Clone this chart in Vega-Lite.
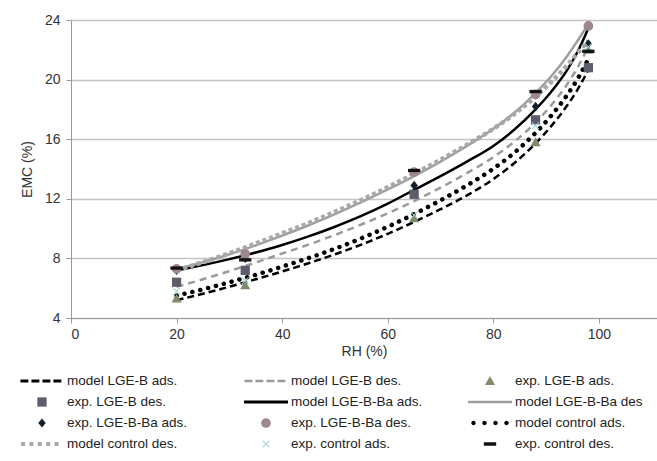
{
  "$schema": "https://vega.github.io/schema/vega-lite/v6.json",
  "autosize": "none",
  "width": 586,
  "height": 298,
  "padding": {"left": 71, "top": 20, "right": 0, "bottom": 143},
  "background": "white",
  "config": {
    "font": "Liberation Sans",
    "view": {"stroke": null},
    "axis": {"labelFont": "Liberation Sans", "titleFont": "Liberation Sans", "labelFontSize": 14, "labelColor": "#333333", "titleFontSize": 14, "titleFontWeight": "normal", "titleColor": "#333333", "domainColor": "#9a9a9a", "tickColor": "#9a9a9a", "tickSize": 5}
  },
  "datasets": {
    "curves": [
      {"series": "model LGE-B ads.", "rh": 20, "emc": 5.2}, {"series": "model LGE-B ads.", "rh": 25, "emc": 5.625}, {"series": "model LGE-B ads.", "rh": 30, "emc": 6.1}, {"series": "model LGE-B ads.", "rh": 35, "emc": 6.6}, {"series": "model LGE-B ads.", "rh": 40, "emc": 7.125}, {"series": "model LGE-B ads.", "rh": 45, "emc": 7.675}, {"series": "model LGE-B ads.", "rh": 50, "emc": 8.275}, {"series": "model LGE-B ads.", "rh": 55, "emc": 8.925}, {"series": "model LGE-B ads.", "rh": 60, "emc": 9.65}, {"series": "model LGE-B ads.", "rh": 65, "emc": 10.45}, {"series": "model LGE-B ads.", "rh": 70, "emc": 11.3}, {"series": "model LGE-B ads.", "rh": 75, "emc": 12.225}, {"series": "model LGE-B ads.", "rh": 80, "emc": 13.325}, {"series": "model LGE-B ads.", "rh": 84, "emc": 14.405}, {"series": "model LGE-B ads.", "rh": 88, "emc": 15.725}, {"series": "model LGE-B ads.", "rh": 91, "emc": 16.895}, {"series": "model LGE-B ads.", "rh": 94, "emc": 18.275}, {"series": "model LGE-B ads.", "rh": 96, "emc": 19.355}, {"series": "model LGE-B ads.", "rh": 98, "emc": 20.655},
      {"series": "model LGE-B des.", "rh": 20, "emc": 6.1}, {"series": "model LGE-B des.", "rh": 25, "emc": 6.6}, {"series": "model LGE-B des.", "rh": 30, "emc": 7.15}, {"series": "model LGE-B des.", "rh": 35, "emc": 7.725}, {"series": "model LGE-B des.", "rh": 40, "emc": 8.325}, {"series": "model LGE-B des.", "rh": 45, "emc": 8.925}, {"series": "model LGE-B des.", "rh": 50, "emc": 9.575}, {"series": "model LGE-B des.", "rh": 55, "emc": 10.275}, {"series": "model LGE-B des.", "rh": 60, "emc": 11.025}, {"series": "model LGE-B des.", "rh": 65, "emc": 11.85}, {"series": "model LGE-B des.", "rh": 70, "emc": 12.75}, {"series": "model LGE-B des.", "rh": 75, "emc": 13.725}, {"series": "model LGE-B des.", "rh": 80, "emc": 14.8}, {"series": "model LGE-B des.", "rh": 84, "emc": 15.84}, {"series": "model LGE-B des.", "rh": 88, "emc": 17.12}, {"series": "model LGE-B des.", "rh": 91, "emc": 18.29}, {"series": "model LGE-B des.", "rh": 94, "emc": 19.7}, {"series": "model LGE-B des.", "rh": 96, "emc": 20.84}, {"series": "model LGE-B des.", "rh": 98, "emc": 22.2},
      {"series": "model LGE-B-Ba ads.", "rh": 20, "emc": 7.2}, {"series": "model LGE-B-Ba ads.", "rh": 25, "emc": 7.55}, {"series": "model LGE-B-Ba ads.", "rh": 30, "emc": 7.95}, {"series": "model LGE-B-Ba ads.", "rh": 35, "emc": 8.4}, {"series": "model LGE-B-Ba ads.", "rh": 40, "emc": 8.9}, {"series": "model LGE-B-Ba ads.", "rh": 45, "emc": 9.475}, {"series": "model LGE-B-Ba ads.", "rh": 50, "emc": 10.125}, {"series": "model LGE-B-Ba ads.", "rh": 55, "emc": 10.85}, {"series": "model LGE-B-Ba ads.", "rh": 60, "emc": 11.675}, {"series": "model LGE-B-Ba ads.", "rh": 65, "emc": 12.6}, {"series": "model LGE-B-Ba ads.", "rh": 70, "emc": 13.525}, {"series": "model LGE-B-Ba ads.", "rh": 75, "emc": 14.5}, {"series": "model LGE-B-Ba ads.", "rh": 80, "emc": 15.55}, {"series": "model LGE-B-Ba ads.", "rh": 84, "emc": 16.65}, {"series": "model LGE-B-Ba ads.", "rh": 88, "emc": 18.0}, {"series": "model LGE-B-Ba ads.", "rh": 91, "emc": 19.2}, {"series": "model LGE-B-Ba ads.", "rh": 94, "emc": 20.65}, {"series": "model LGE-B-Ba ads.", "rh": 96, "emc": 21.9}, {"series": "model LGE-B-Ba ads.", "rh": 98, "emc": 23.45},
      {"series": "model LGE-B-Ba des", "rh": 20, "emc": 7.3}, {"series": "model LGE-B-Ba des", "rh": 25, "emc": 7.75}, {"series": "model LGE-B-Ba des", "rh": 30, "emc": 8.275}, {"series": "model LGE-B-Ba des", "rh": 35, "emc": 8.875}, {"series": "model LGE-B-Ba des", "rh": 40, "emc": 9.525}, {"series": "model LGE-B-Ba des", "rh": 45, "emc": 10.225}, {"series": "model LGE-B-Ba des", "rh": 50, "emc": 10.975}, {"series": "model LGE-B-Ba des", "rh": 55, "emc": 11.775}, {"series": "model LGE-B-Ba des", "rh": 60, "emc": 12.625}, {"series": "model LGE-B-Ba des", "rh": 65, "emc": 13.525}, {"series": "model LGE-B-Ba des", "rh": 70, "emc": 14.5}, {"series": "model LGE-B-Ba des", "rh": 75, "emc": 15.55}, {"series": "model LGE-B-Ba des", "rh": 80, "emc": 16.7}, {"series": "model LGE-B-Ba des", "rh": 84, "emc": 17.78}, {"series": "model LGE-B-Ba des", "rh": 88, "emc": 19.1}, {"series": "model LGE-B-Ba des", "rh": 91, "emc": 20.24}, {"series": "model LGE-B-Ba des", "rh": 94, "emc": 21.59}, {"series": "model LGE-B-Ba des", "rh": 96, "emc": 22.63}, {"series": "model LGE-B-Ba des", "rh": 98, "emc": 23.73},
      {"series": "model control ads.", "rh": 20, "emc": 5.5}, {"series": "model control ads.", "rh": 25, "emc": 5.925}, {"series": "model control ads.", "rh": 30, "emc": 6.4}, {"series": "model control ads.", "rh": 35, "emc": 6.9}, {"series": "model control ads.", "rh": 40, "emc": 7.45}, {"series": "model control ads.", "rh": 45, "emc": 8.025}, {"series": "model control ads.", "rh": 50, "emc": 8.65}, {"series": "model control ads.", "rh": 55, "emc": 9.35}, {"series": "model control ads.", "rh": 60, "emc": 10.125}, {"series": "model control ads.", "rh": 65, "emc": 10.975}, {"series": "model control ads.", "rh": 70, "emc": 11.9}, {"series": "model control ads.", "rh": 75, "emc": 12.9}, {"series": "model control ads.", "rh": 80, "emc": 14.025}, {"series": "model control ads.", "rh": 84, "emc": 15.105}, {"series": "model control ads.", "rh": 88, "emc": 16.425}, {"series": "model control ads.", "rh": 91, "emc": 17.595}, {"series": "model control ads.", "rh": 94, "emc": 18.975}, {"series": "model control ads.", "rh": 96, "emc": 20.075}, {"series": "model control ads.", "rh": 98, "emc": 21.375},
      {"series": "model control des.", "rh": 20, "emc": 7.2}, {"series": "model control des.", "rh": 25, "emc": 7.75}, {"series": "model control des.", "rh": 30, "emc": 8.35}, {"series": "model control des.", "rh": 35, "emc": 9.0}, {"series": "model control des.", "rh": 40, "emc": 9.675}, {"series": "model control des.", "rh": 45, "emc": 10.375}, {"series": "model control des.", "rh": 50, "emc": 11.125}, {"series": "model control des.", "rh": 55, "emc": 11.925}, {"series": "model control des.", "rh": 60, "emc": 12.775}, {"series": "model control des.", "rh": 65, "emc": 13.675}, {"series": "model control des.", "rh": 70, "emc": 14.625}, {"series": "model control des.", "rh": 75, "emc": 15.625}, {"series": "model control des.", "rh": 80, "emc": 16.7}, {"series": "model control des.", "rh": 84, "emc": 17.7}, {"series": "model control des.", "rh": 88, "emc": 18.86}, {"series": "model control des.", "rh": 91, "emc": 19.85}, {"series": "model control des.", "rh": 94, "emc": 20.96}, {"series": "model control des.", "rh": 96, "emc": 21.8}, {"series": "model control des.", "rh": 98, "emc": 22.6}
    ],
    "points": [
      {"series": "exp. LGE-B ads.", "rh": 20, "emc": 5.3}, {"series": "exp. LGE-B ads.", "rh": 33, "emc": 6.2}, {"series": "exp. LGE-B ads.", "rh": 65, "emc": 10.7}, {"series": "exp. LGE-B ads.", "rh": 88, "emc": 15.8}, {"series": "exp. LGE-B ads.", "rh": 98, "emc": 22.0},
      {"series": "exp. LGE-B des.", "rh": 20, "emc": 6.4}, {"series": "exp. LGE-B des.", "rh": 33, "emc": 7.2}, {"series": "exp. LGE-B des.", "rh": 65, "emc": 12.3}, {"series": "exp. LGE-B des.", "rh": 88, "emc": 17.3}, {"series": "exp. LGE-B des.", "rh": 98, "emc": 20.8},
      {"series": "exp. LGE-B-Ba ads.", "rh": 20, "emc": 7.2}, {"series": "exp. LGE-B-Ba ads.", "rh": 33, "emc": 8.0}, {"series": "exp. LGE-B-Ba ads.", "rh": 65, "emc": 12.9}, {"series": "exp. LGE-B-Ba ads.", "rh": 88, "emc": 18.2}, {"series": "exp. LGE-B-Ba ads.", "rh": 98, "emc": 22.4},
      {"series": "exp. LGE-B-Ba des.", "rh": 20, "emc": 7.3}, {"series": "exp. LGE-B-Ba des.", "rh": 33, "emc": 8.3}, {"series": "exp. LGE-B-Ba des.", "rh": 65, "emc": 13.8}, {"series": "exp. LGE-B-Ba des.", "rh": 88, "emc": 19.0}, {"series": "exp. LGE-B-Ba des.", "rh": 98, "emc": 23.6},
      {"series": "exp. control ads.", "rh": 20, "emc": 5.8}, {"series": "exp. control ads.", "rh": 33, "emc": 6.5}, {"series": "exp. control ads.", "rh": 65, "emc": 10.9}, {"series": "exp. control ads.", "rh": 88, "emc": 16.9}, {"series": "exp. control ads.", "rh": 98, "emc": 22.2},
      {"series": "exp. control des.", "rh": 20, "emc": 7.35}, {"series": "exp. control des.", "rh": 33, "emc": 7.9}, {"series": "exp. control des.", "rh": 65, "emc": 13.9}, {"series": "exp. control des.", "rh": 88, "emc": 19.2}, {"series": "exp. control des.", "rh": 98, "emc": 21.9}
    ]
  },
  "encoding": {
    "x": {"field": "rh", "type": "quantitative", "scale": {"domain": [0, 111], "nice": false, "zero": false}, "axis": {"values": [0, 20, 40, 60, 80, 100], "grid": false, "title": "RH (%)", "labelPadding": 4, "titlePadding": 3}},
    "y": {"field": "emc", "type": "quantitative", "scale": {"domain": [4, 24], "nice": false, "zero": false}, "axis": {"values": [4, 8, 12, 16, 20, 24], "grid": true, "gridColor": "#c4c4c4", "gridWidth": 1.3, "title": "EMC (%)", "labelPadding": 6, "titlePadding": 10}}
  },
  "layer": [
    {"data": {"name": "curves"}, "transform": [{"filter": {"field": "series", "equal": "model LGE-B ads."}}], "mark": {"type": "line", "color": "#000000", "strokeWidth": 2.5, "strokeDash": [7, 4], "interpolate": "monotone"}},
    {"data": {"name": "curves"}, "transform": [{"filter": {"field": "series", "equal": "model LGE-B des."}}], "mark": {"type": "line", "color": "#9a9a9a", "strokeWidth": 2.5, "strokeDash": [7, 5], "interpolate": "monotone"}},
    {"data": {"name": "curves"}, "transform": [{"filter": {"field": "series", "equal": "model LGE-B-Ba ads."}}], "mark": {"type": "line", "color": "#000000", "strokeWidth": 2.5, "interpolate": "monotone"}},
    {"data": {"name": "curves"}, "transform": [{"filter": {"field": "series", "equal": "model LGE-B-Ba des"}}], "mark": {"type": "line", "color": "#9e9e9e", "strokeWidth": 2.5, "interpolate": "monotone"}},
    {"data": {"name": "curves"}, "transform": [{"filter": {"field": "series", "equal": "model control ads."}}], "mark": {"type": "line", "color": "#000000", "strokeWidth": 4.5, "strokeDash": [0.1, 8], "strokeCap": "round", "interpolate": "monotone"}},
    {"data": {"name": "curves"}, "transform": [{"filter": {"field": "series", "equal": "model control des."}}], "mark": {"type": "line", "color": "#a8a8a8", "strokeWidth": 4.5, "strokeDash": [4, 3], "interpolate": "monotone"}},
    {
      "data": {"name": "points"},
      "mark": {"type": "point", "filled": true, "size": 1936, "opacity": 1, "strokeWidth": 0},
      "encoding": {
        "color": {
          "field": "series", "type": "nominal",
          "scale": {
            "domain": ["model LGE-B ads.", "model LGE-B des.", "exp. LGE-B ads.", "exp. LGE-B des.", "model LGE-B-Ba ads.", "model LGE-B-Ba des", "exp. LGE-B-Ba ads.", "exp. LGE-B-Ba des.", "model control ads.", "model control des.", "exp. control ads.", "exp. control des."],
            "range": ["#000000", "#9a9a9a", "#7f8b6c", "#5b5c6c", "#000000", "#9e9e9e", "#14202e", "#a0868e", "#000000", "#a8a8a8", "#9fd3d3", "#111111"]
          },
          "legend": {"title": null, "orient": "none", "legendX": -51, "legendY": 351, "columns": 3, "direction": "horizontal", "gridAlign": "all", "columnPadding": 45, "rowPadding": 1, "clipHeight": 20, "symbolSize": 1936, "symbolStrokeWidth": 0, "symbolOpacity": 1, "symbolOffset": 0, "labelOffset": 3, "labelFontSize": 13.5, "labelColor": "#222222", "labelFont": "Liberation Sans", "padding": 0, "labelLimit": 300}
        },
        "shape": {
          "field": "series", "type": "nominal",
          "scale": {
            "domain": ["model LGE-B ads.", "model LGE-B des.", "exp. LGE-B ads.", "exp. LGE-B des.", "model LGE-B-Ba ads.", "model LGE-B-Ba des", "exp. LGE-B-Ba ads.", "exp. LGE-B-Ba des.", "model control ads.", "model control des.", "exp. control ads.", "exp. control des."],
            "range": [
              "M-0.98,-0.07H-0.62V0.07H-0.98Z M-0.48,-0.07H-0.12V0.07H-0.48Z M0.02,-0.07H0.38V0.07H0.02Z M0.52,-0.07H0.88V0.07H0.52Z",
              "M-0.98,-0.055H-0.62V0.055H-0.98Z M-0.48,-0.055H-0.12V0.055H-0.48Z M0.02,-0.055H0.38V0.055H0.02Z M0.52,-0.055H0.88V0.055H0.52Z",
              "M0,-0.22L0.23,0.18L-0.23,0.18Z",
              "M-0.21,-0.21H0.21V0.21H-0.21Z",
              "M-1,-0.07H1V0.07H-1Z",
              "M-1,-0.055H1V0.055H-1Z",
              "M0,-0.21L0.17,0L0,0.21L-0.17,0Z",
              "M-0.22,0A0.22,0.22 0 1,0 0.22,0A0.22,0.22 0 1,0 -0.22,0Z",
              "M-0.85,0A0.1,0.1 0 1,0 -0.65,0A0.1,0.1 0 1,0 -0.85,0Z M-0.35,0A0.1,0.1 0 1,0 -0.15,0A0.1,0.1 0 1,0 -0.35,0Z M0.15,0A0.1,0.1 0 1,0 0.35,0A0.1,0.1 0 1,0 0.15,0Z M0.65,0A0.1,0.1 0 1,0 0.85,0A0.1,0.1 0 1,0 0.65,0Z",
              "M-0.95,-0.09H-0.77V0.09H-0.95Z M-0.57,-0.09H-0.39V0.09H-0.57Z M-0.19,-0.09H-0.01V0.09H-0.19Z M0.19,-0.09H0.37V0.09H0.19Z M0.57,-0.09H0.75V0.09H0.57Z",
              "M-0.17,-0.14L-0.14,-0.17L0,-0.03L0.14,-0.17L0.17,-0.14L0.03,0L0.17,0.14L0.14,0.17L0,0.03L-0.14,0.17L-0.17,0.14L-0.03,0Z",
              "M-0.28,-0.075H0.28V0.075H-0.28Z"
            ]
          },
          "legend": {"title": null, "orient": "none", "legendX": -51, "legendY": 351, "columns": 3, "direction": "horizontal", "gridAlign": "all", "columnPadding": 45, "rowPadding": 1, "clipHeight": 20, "symbolSize": 1936, "symbolStrokeWidth": 0, "symbolOpacity": 1, "symbolOffset": 0, "labelOffset": 3, "labelFontSize": 13.5, "labelColor": "#222222", "labelFont": "Liberation Sans", "padding": 0, "labelLimit": 300}
        }
      }
    }
  ]
}
